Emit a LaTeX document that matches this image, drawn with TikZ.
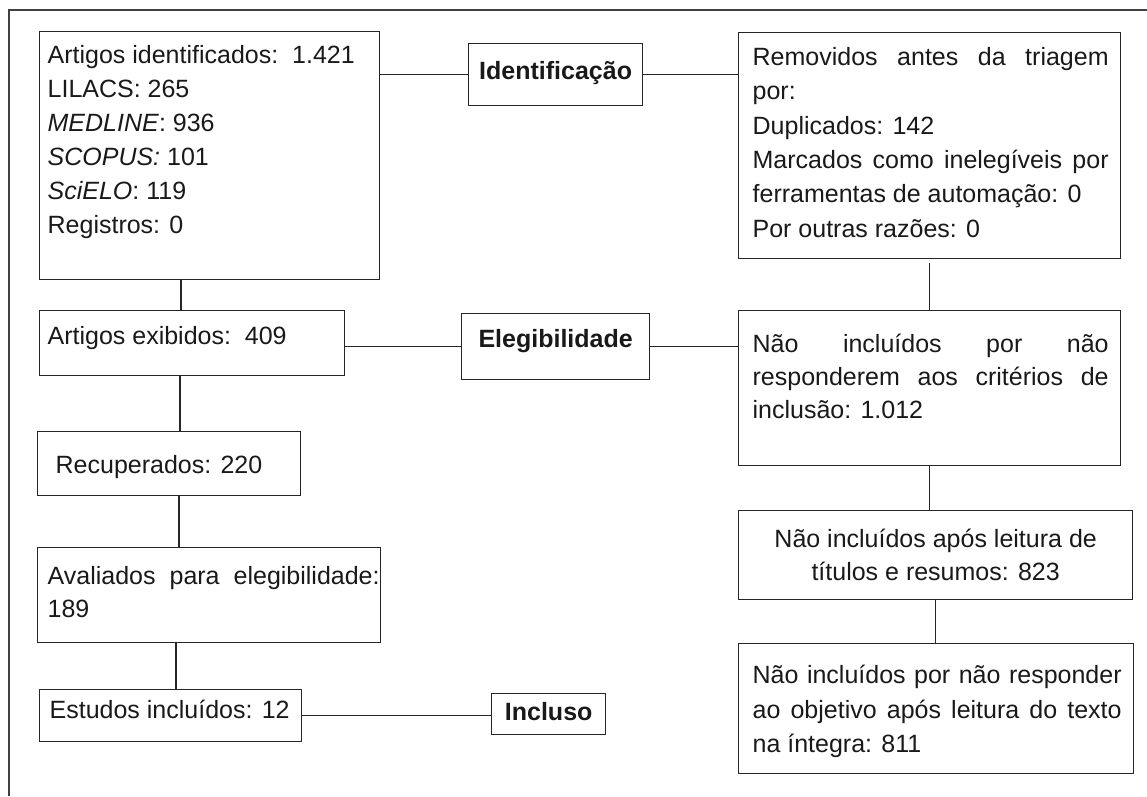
\documentclass[tikz,border=0pt]{standalone}
\usepackage{fontspec}
\setmainfont{Liberation Sans}
\tolerance=10000
\hbadness=10000
% W, H, left pad, right pad, first baseline, baselineskip, text
\newcommand\bx[7]{\parbox[c][#2][t]{#1}{\setlength\leftskip{#3}\setlength\rightskip{#4}\setlength\parfillskip{0pt plus 1fil}\setlength\baselineskip{#6}\rule{0pt}{#5}#7}}
% centered: W, H, first baseline, baselineskip, text
\newcommand\cbx[5]{\parbox[c][#2][t]{#1}{\setlength\leftskip{0pt plus 1fil}\setlength\rightskip{0pt plus 1fil}\setlength\parfillskip{0pt}\setlength\baselineskip{#4}\rule{0pt}{#3}#5}}
\tikzset{
  box/.style={draw=black!85, line width=1.3pt, inner sep=0pt, anchor=north west,
    text=black!90, font=\fontsize{25}{34}\selectfont},
  conn/.style={draw=black!85, line width=1.3pt},
  frame/.style={draw=black!75, line width=1.3pt}
}
\begin{document}
\begin{tikzpicture}[x=1pt,y=-1pt]
\useasboundingbox (0,0) rectangle (1147,796);
\draw[frame] (9,796) -- (9,10) -- (1147,10);

\node[box] (A) at (39,31) {\bx{340pt}{248pt}{8pt}{0pt}{32pt}{34pt}{Artigos identificados:\ \ 1.421\\
LILACS: 265\\
\textit{MEDLINE}: 936\\
\textit{SCOPUS:} 101\\
\textit{SciELO}: 119\\
Registros: 0}};

\node[box] (I) at (468,43) {\cbx{174pt}{62pt}{36pt}{34pt}{\bfseries Identificação}};

\node[box] (R) at (738,32) {\bx{382pt}{226pt}{14pt}{12pt}{33pt}{34.3pt}{Removidos antes da triagem\linebreak
por:\\
Duplicados: 142\\
Marcados como inelegíveis por\linebreak
ferramentas de automação: 0\\
Por outras razões: 0}};

\node[box] (E) at (39,310) {\bx{305pt}{65pt}{8pt}{0pt}{34pt}{34pt}{Artigos exibidos:\ \ 409}};

\node[box] (El) at (461,313) {\cbx{188pt}{66pt}{34pt}{34pt}{\bfseries Elegibilidade}};

\node[box] (N1) at (738,310) {\bx{382pt}{155pt}{14pt}{12pt}{42pt}{33pt}{Não incluídos por não\linebreak
responderem aos critérios de\linebreak
inclusão: 1.012}};

\node[box] (Rec) at (37,431) {\bx{263pt}{64pt}{18pt}{0pt}{42pt}{34pt}{Recuperados: 220}};

\node[box] (N2) at (738,510) {\cbx{394pt}{89pt}{37pt}{33pt}{Não incluídos após leitura de\break
títulos e resumos: 823}};

\node[box] (Av) at (37,547) {\bx{343pt}{95pt}{10pt}{1pt}{37pt}{33pt}{Avaliados para elegibilidade:\linebreak
189}};

\node[box] (N3) at (738,643) {\bx{395pt}{130pt}{14pt}{12pt}{40pt}{34.5pt}{Não incluídos por não responder\linebreak
ao objetivo após leitura do texto\linebreak
na íntegra: 811}};

\node[box] (Es) at (39,689) {\bx{262pt}{52pt}{10pt}{0pt}{29pt}{34pt}{Estudos incluídos: 12}};

\node[box] (Inc) at (491,693) {\cbx{114pt}{41pt}{27pt}{34pt}{\bfseries Incluso}};

% connectors
\draw[conn] (I.west -| A.east) -- (I.west);
\draw[conn] (I.east) -- (I.east -| R.west);
\draw[conn] ([xshift=142pt]A.south west) -- ([xshift=142pt]E.north west);
\draw[conn] (El.west -| E.east) -- (El.west);
\draw[conn] (El.east) -- (El.east -| N1.west);
\draw[conn] ([yshift=-4pt]R.south) -- (R.south |- N1.north);
\draw[conn] (N1.south) -- (N1.south |- N2.north);
\draw[conn] (N2.south) -- (N2.south |- N3.north);
\draw[conn] ([xshift=141pt]E.south west) -- ([xshift=143pt]Rec.north west);
\draw[conn] ([xshift=142pt]Rec.south west) -- ([xshift=142pt]Av.north west);
\draw[conn] ([xshift=139pt]Av.south west) -- ([xshift=137pt]Es.north west);
\draw[conn] (Es.east) -- (Es.east -| Inc.west);
\end{tikzpicture}
\end{document}
